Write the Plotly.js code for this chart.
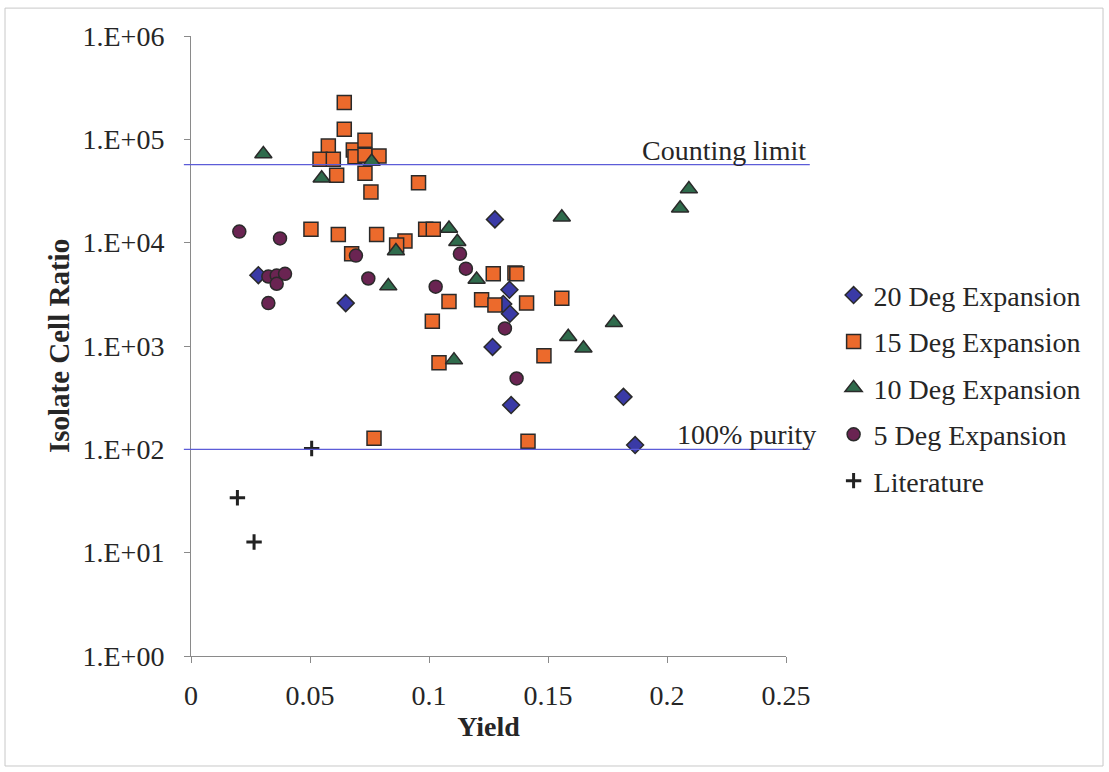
<!DOCTYPE html>
<html>
<head>
<meta charset="utf-8">
<script src="https://cdn.plot.ly/plotly-3.0.1.min.js"></script>
<style>html,body{margin:0;padding:0;background:#fff;}#chart{width:1109px;height:772px;}</style>
</head>
<body>
<div id="chart"></div>
<script>
// ---- data ----
const seriesNames = ["20 Deg Expansion", "15 Deg Expansion", "10 Deg Expansion", "5 Deg Expansion", "Literature"];

const deg20X = [0.0283, 0.065, 0.1277, 0.1338, 0.1312, 0.134, 0.1267, 0.1345, 0.1817, 0.1866];
const deg20Y = [4850, 2600, 16800, 3500, 2550, 2050, 980, 268, 322, 110];

const deg15X = [0.0644, 0.0644, 0.0577, 0.0542, 0.0598, 0.0682, 0.0731, 0.0689, 0.0731, 0.079, 0.0731, 0.0612, 0.0756, 0.0956,
                0.0504, 0.0619, 0.078, 0.0986, 0.1018, 0.0899, 0.0864, 0.0675, 0.127, 0.1361, 0.1369, 0.1084, 0.1221, 0.1277,
                0.141, 0.1558, 0.1014, 0.1483, 0.1042, 0.0769, 0.1416];
const deg15Y = [227000, 125000, 86000, 64000, 64000, 79000, 98000, 68000, 70000, 69000, 47000, 45000, 31000, 38000,
                13500, 12000, 12000, 13500, 13500, 10400, 9500, 7800, 5000, 5100, 5000, 2700, 2800, 2500,
                2600, 2900, 1740, 804, 687, 128, 120];

const deg10X = [0.0304, 0.0549, 0.0759, 0.0861, 0.0829, 0.1084, 0.1119, 0.12, 0.1558, 0.2055, 0.2092, 0.1777, 0.1585, 0.1649, 0.1105];
const deg10Y = [72000, 42000, 61000, 8300, 3800, 13700, 10200, 4400, 17600, 21500, 33000, 1680, 1230, 950, 730];

const deg5X = [0.0203, 0.0374, 0.0693, 0.0325, 0.036, 0.0395, 0.036, 0.0325, 0.0745, 0.113, 0.1155, 0.1028, 0.1319, 0.1368];
const deg5Y = [12800, 11000, 7500, 4700, 4800, 5000, 4000, 2600, 4500, 7800, 5600, 3750, 1480, 485];

const litX = [0.0507, 0.0195, 0.0265];
const litY = [102, 34, 12.7];

const countingLimit = 57000;
const purityLimit = 100;
const refLineX = [-0.003, 0.26];
const refLabels = ["Counting limit", "100% purity"];
const refLabelX = [0.2593, 0.2634];

const xRange = [0, 0.25];
const yTickVals = [1, 10, 100, 1000, 10000, 100000, 1000000];
const yTickText = ["1.E+00", "1.E+01", "1.E+02", "1.E+03", "1.E+04", "1.E+05", "1.E+06"];
const xTitle = "Yield";
const yTitle = "Isolate Cell Ratio";

// ---- styles ----
const FONT = "Liberation Serif, Times New Roman, serif";
const TXT = "#262626";
const OUT = "#2a2a2a";
const FS = 28;

function mk(name, x, y, symbol, color, size, group) {
  return {
    type: "scatter", mode: "markers", name: name, x: x, y: y,
    legendgroup: group, cliponaxis: false,
    marker: { symbol: symbol, color: color, size: size, line: { color: OUT, width: 1.5 } }
  };
}

const traces = [
  mk(seriesNames[0], deg20X, deg20Y, "diamond", "#3a3aa6", 13, "a"),
  mk(seriesNames[1], deg15X, deg15Y, "square", "#ec6a2c", 14, "b"),
  mk(seriesNames[2], deg10X, deg10Y, "triangle-up", "#2f6b4c", 15, "c"),
  mk(seriesNames[3], deg5X, deg5Y, "circle", "#6a2452", 13, "d"),
  {
    type: "scatter", mode: "markers", name: seriesNames[4], x: litX, y: litY, legendgroup: "e", cliponaxis: false,
    marker: { symbol: "cross-thin", size: 11, color: "#222", line: { color: "#222", width: 3 } }
  }
];

const toPaperX = v => (v - xRange[0]) / (xRange[1] - xRange[0]);

const shapes = [countingLimit, purityLimit].map(v => ({
  type: "line", xref: "paper", yref: "y",
  x0: toPaperX(refLineX[0]), x1: toPaperX(refLineX[1]),
  y0: v, y1: v,
  line: { color: "#5c5cd8", width: 1.3 }
}));
// outer frame of the chart area
shapes.push({
  type: "rect", xref: "paper", yref: "paper",
  x0: -0.3126, x1: 1.5328, y0: -0.1774, y1: 1.045,
  line: { color: "#c8c8c8", width: 1 }, fillcolor: "rgba(0,0,0,0)", layer: "below"
});

const annotations = [countingLimit, purityLimit].map((v, i) => ({
  xref: "paper", yref: "y", x: toPaperX(refLabelX[i]), y: Math.log10(v),
  text: refLabels[i], showarrow: false, xanchor: "right", yanchor: "bottom", yshift: -3,
  font: { family: FONT, size: FS, color: TXT }
}));

const layout = {
  width: 1109, height: 772,
  margin: { l: 191, r: 323, t: 36, b: 116 },
  paper_bgcolor: "#ffffff", plot_bgcolor: "#ffffff",
  font: { family: FONT, color: TXT, size: FS },
  showlegend: true,
  legend: {
    x: 1.08, xanchor: "left", y: 0.622, yanchor: "top",
    traceorder: "grouped", tracegroupgap: 7,
    font: { family: FONT, size: FS, color: TXT },
    bgcolor: "rgba(0,0,0,0)", itemwidth: 30
  },
  xaxis: {
    range: xRange, dtick: 0.05, tick0: 0,
    showgrid: false, zeroline: false, showline: true, linecolor: "#8a8a8a", linewidth: 1,
    ticks: "outside", ticklen: 6, tickcolor: "#8a8a8a", ticklabelstandoff: 8,
    tickfont: { family: FONT, size: FS, color: TXT },
    title: { text: xTitle, font: { family: FONT, size: 28, color: TXT, weight: "bold" }, standoff: 6 }
  },
  yaxis: {
    type: "log", range: [0, 6],
    tickvals: yTickVals, ticktext: yTickText,
    showgrid: false, zeroline: false, showline: true, linecolor: "#8a8a8a", linewidth: 1,
    ticks: "outside", ticklen: 6, tickcolor: "#8a8a8a", ticklabelstandoff: 14,
    tickfont: { family: FONT, size: FS, color: TXT },
    title: { text: yTitle, font: { family: FONT, size: 29, color: TXT, weight: "bold" }, standoff: 4 }
  },
  shapes: shapes,
  annotations: annotations
};

Plotly.newPlot("chart", traces, layout, { staticPlot: true, displayModeBar: false });
</script>
</body>
</html>
